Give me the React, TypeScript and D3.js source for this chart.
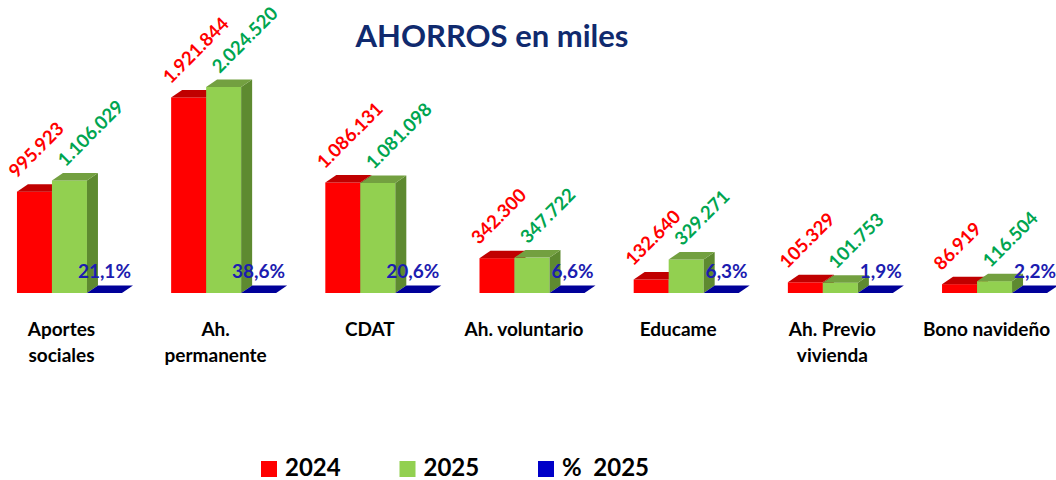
import React, { useEffect } from "react";
import * as d3 from "d3";

const title = "AHORROS en miles";
const categories = [
  "Aportes\nsociales",
  "Ah.\npermanente",
  "CDAT",
  "Ah. voluntario",
  "Educame",
  "Ah. Previo\nvivienda",
  "Bono navideño",
];
const values2024 = [995923, 1921844, 1086131, 342300, 132640, 105329, 86919];
const values2025 = [1106029, 2024520, 1081098, 347722, 329271, 101753, 116504];
const pct2025 = [21.1, 38.6, 20.6, 6.6, 6.3, 1.9, 2.2];
const seriesNames = ["2024", "2025", "%  2025"];

const W = 1056;
const H = 480;
const Y0 = 293;
const DX = 11;
const DY = -7.5;
const FONT = "Lato, 'Open Sans', sans-serif";

const COLORS = [
  { front: "#FF0000", top: "#C00000", side: "#A00000", label: "#FF0000" },
  { front: "#92D050", top: "#73A040", side: "#5E8A30", label: "#00A550" },
  { front: "#000099", top: "#000099", side: "#00007A", label: "#1C1CB0" },
];
const LEGEND_COLORS = ["#FF0000", "#92D050", "#0000C8"];

const fmtNum = (v: number) => d3.format(",")(v).replace(/,/g, ".");
const fmtPct = (v: number) => d3.format(".1f")(v).replace(".", ",") + "%";

function Bar3D({ x, w, yTop, c }: { x: number; w: number; yTop: number; c: any }) {
  const h = Math.max(0, Y0 - yTop);
  const top = [
    [x, yTop],
    [x + DX, yTop + DY],
    [x + w + DX, yTop + DY],
    [x + w, yTop],
  ];
  const side = [
    [x + w, yTop],
    [x + w + DX, yTop + DY],
    [x + w + DX, Y0 + DY],
    [x + w, Y0],
  ];
  return (
    <g>
      {h > 0 && <rect x={x} y={yTop} width={w} height={h} fill={c.front} />}
      {h > 0 && <polygon points={side.map((p) => p.join(",")).join(" ")} fill={c.side} />}
      <polygon points={top.map((p) => p.join(",")).join(" ")} fill={c.top} />
    </g>
  );
}

export default function App() {
  useEffect(() => {
    document.body.style.margin = "0";
  }, []);

  const x = d3
    .scaleBand<string>()
    .domain(categories)
    .range([0, 1064])
    .paddingInner(0.319)
    .paddingOuter(0.11);
  const xs = d3.scaleBand<string>().domain(["a", "b", "c"]).range([0, x.bandwidth()]);
  const y = d3.scaleLinear().domain([0, 2500000]).range([Y0, 38.6]);
  const w = xs.bandwidth();

  return (
    <svg width={W} height={H} style={{ display: "block", background: "#fff" }} fontFamily={FONT}>
      <text x={492} y={47} textAnchor="middle" fontSize={31} fontWeight="bold" fill="#102A6E">
        {title}
      </text>

      {categories.map((cat, i) => {
        const gx = x(cat)!;
        const xr = gx + xs("a")!;
        const xg = gx + xs("b")!;
        const xb = gx + xs("c")!;
        const yr = y(values2024[i]);
        const yg = y(values2025[i]);
        const yb = y(pct2025[i]);
        const lines = cat.split("\n");
        const cx = gx + x.bandwidth() / 2 - 8;
        return (
          <g key={cat}>
            <Bar3D x={xr} w={w} yTop={yr} c={COLORS[0]} />
            <Bar3D x={xg} w={w} yTop={yg} c={COLORS[1]} />
            <Bar3D x={xb} w={w} yTop={yb} c={COLORS[2]} />
            <text
              transform={`translate(${xr + w / 2 - 18},${yr - 13}) rotate(-45)`}
              fontSize={18.5}
              fontWeight="bold"
              fill={COLORS[0].label}
            >
              {fmtNum(values2024[i])}
            </text>
            <text
              transform={`translate(${xg + w / 2 - 4},${yg - 13}) rotate(-45)`}
              fontSize={18.5}
              fontWeight="bold"
              fill={COLORS[1].label}
            >
              {fmtNum(values2025[i])}
            </text>
            <text
              x={xb + w + DX - 2}
              y={Y0 - 15}
              textAnchor="end"
              fontSize={19}
              fontWeight="bold"
              fill={COLORS[2].label}
            >
              {fmtPct(pct2025[i])}
            </text>
            {lines.map((ln, j) => (
              <text
                key={j}
                x={cx}
                y={336 + j * 26}
                textAnchor="middle"
                fontSize={19}
                fontWeight="bold"
                fill="#000"
              >
                {ln}
              </text>
            ))}
          </g>
        );
      })}

      {seriesNames.map((s, i) => {
        const lx = 261 + i * 138.5;
        return (
          <g key={s}>
            <rect x={lx} y={461} width={16} height={16} fill={LEGEND_COLORS[i]} />
            <text
              x={lx + 24}
              y={476}
              fontSize={24}
              fontWeight="bold"
              fill="#000"
              style={{ whiteSpace: "pre" }}
            >
              {s}
            </text>
          </g>
        );
      })}
    </svg>
  );
}
